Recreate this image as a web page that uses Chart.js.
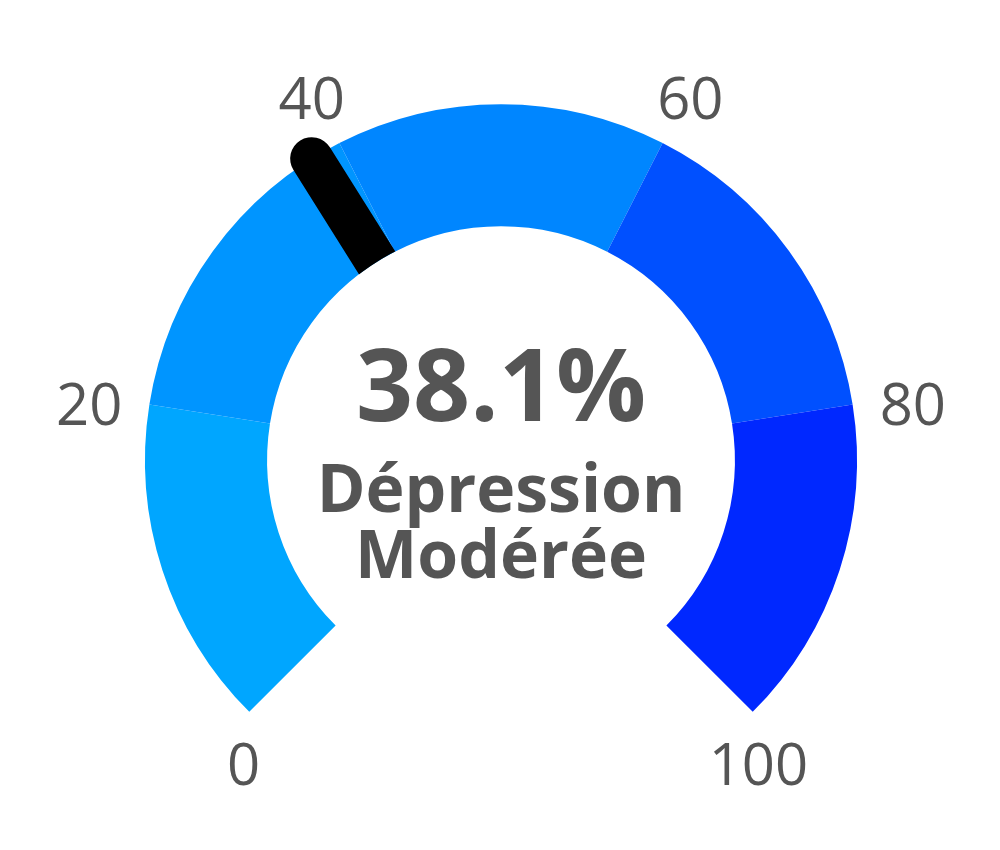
<!DOCTYPE html>
<html lang="fr">
<head>
<meta charset="utf-8">
<title>Jauge dépression</title>
<script src="https://cdn.jsdelivr.net/npm/chart.js"></script>
<style>
  html, body { margin: 0; padding: 0; background: #ffffff; }
  #wrap { position: relative; width: 1000px; height: 850px; }
</style>
</head>
<body>
<div id="wrap"><canvas id="gauge"></canvas></div>
<script>
// --- gauge data ---
const segmentLabels = ["0-20", "20-40", "40-60", "60-80", "80-100"];
const segmentValues = [20, 20, 20, 20, 20];
const segmentColors = ["#00A6FF", "#0095FF", "#0086FF", "#0050FF", "#0028FF"];
const tickLabels = ["0", "20", "40", "60", "80", "100"];
const scoreValue = 38.1;
const scoreText = ["Dépression", "Modérée"];

const textColor = "#555555";
const fontFamily = "'Open Sans', sans-serif";

function valueToAngle(meta, value) {
  const arcs = meta.data;
  const start = arcs[0].startAngle;
  const end = arcs[arcs.length - 1].endAngle;
  const total = segmentValues.reduce((a, b) => a + b, 0);
  return start + (end - start) * (value / total);
}

// needle, tick labels and centre text
const gaugeOverlay = {
  id: "gaugeOverlay",
  afterDatasetsDraw(chart) {
    const ctx = chart.ctx;
    const meta = chart.getDatasetMeta(0);
    const first = meta.data[0];
    const cx = first.x;
    const cy = first.y;
    const outer = first.outerRadius;
    const inner = first.innerRadius;

    // needle: thick round-capped line, hidden inside the hole
    const a = valueToAngle(meta, scoreValue);
    ctx.save();
    ctx.beginPath();
    ctx.rect(0, 0, chart.width, chart.height);
    ctx.arc(cx, cy, inner, 0, Math.PI * 2, true);
    ctx.clip("evenodd");
    ctx.beginPath();
    ctx.moveTo(cx, cy);
    ctx.lineTo(cx + Math.cos(a) * outer, cy + Math.sin(a) * outer);
    ctx.lineWidth = 43;
    ctx.lineCap = "round";
    ctx.strokeStyle = "#000000";
    ctx.stroke();
    ctx.restore();

    // tick labels round the arc
    ctx.save();
    ctx.fillStyle = textColor;
    ctx.font = "58px " + fontFamily;
    ctx.textAlign = "center";
    ctx.textBaseline = "alphabetic";
    const labelRadius = outer + 61;
    tickLabels.forEach((t, i) => {
      const ta = valueToAngle(meta, Number(t));
      let x = cx + Math.cos(ta) * labelRadius;
      const y = cy + Math.sin(ta) * labelRadius + 30;
      // end labels sit just under the ends of the arc
      if (i === 0 || i === tickLabels.length - 1) {
        x = cx + Math.cos(ta) * (outer + 8);
      }
      ctx.fillText(t, x, y);
    });

    // centre text
    ctx.font = "bold 100px " + fontFamily;
    ctx.fillText(scoreValue.toFixed(1) + "%", cx, cy - 39);
    ctx.font = "bold 66px " + fontFamily;
    ctx.fillText(scoreText[0], cx, cy + 52);
    ctx.fillText(scoreText[1], cx, cy + 118);
    ctx.restore();
  }
};

const chart = new Chart(document.getElementById("gauge"), {
  type: "doughnut",
  data: {
    labels: segmentLabels,
    datasets: [{
      data: segmentValues,
      backgroundColor: segmentColors,
      borderWidth: 0,
      hoverOffset: 0
    }]
  },
  options: {
    responsive: true,
    maintainAspectRatio: false,
    animation: false,
    events: [],
    rotation: -135,
    circumference: 270,
    cutout: "65.7%",
    layout: {
      padding: { left: 145, right: 143, top: 98, bottom: 132 }
    },
    plugins: {
      legend: { display: false },
      tooltip: { enabled: false }
    }
  },
  plugins: [gaugeOverlay]
});
</script>
</body>
</html>
